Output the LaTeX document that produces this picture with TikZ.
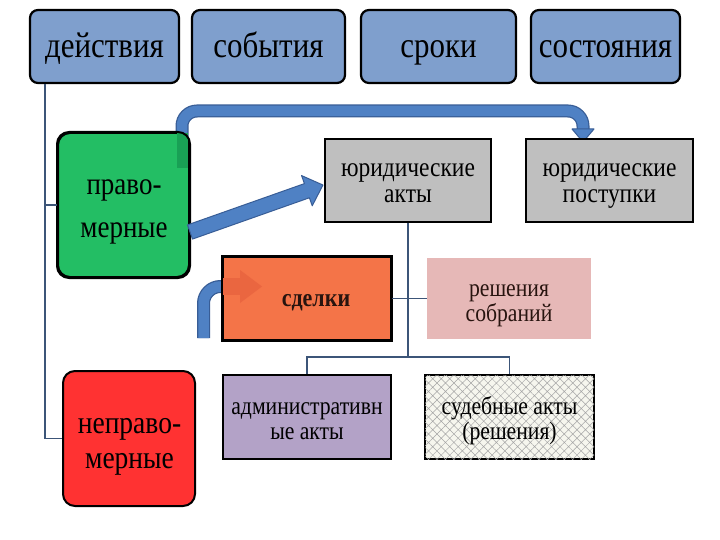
\documentclass[tikz,border=0pt]{standalone}
\usepackage{fontspec}
\setmainfont{Liberation Serif}[FakeStretch=0.86]
\usetikzlibrary{patterns.meta}
\definecolor{topblue}{RGB}{127,159,205}
\definecolor{arrfill}{RGB}{79,129,196}
\definecolor{arredge}{RGB}{56,93,150}
\definecolor{treecol}{RGB}{60,85,120}
\definecolor{grn}{RGB}{35,190,100}
\definecolor{grndark}{RGB}{25,160,85}
\definecolor{rd}{RGB}{255,50,50}
\definecolor{gry}{RGB}{191,191,191}
\definecolor{orng}{RGB}{244,116,72}
\definecolor{orngdark}{RGB}{234,102,64}
\definecolor{pnk}{RGB}{230,184,183}
\definecolor{prpl}{RGB}{179,162,199}
\definecolor{ivry}{RGB}{246,246,238}
\definecolor{txtdark}{RGB}{40,20,15}
\begin{document}
\begin{tikzpicture}[x=1pt,y=-1pt,
  topbox/.style={draw=black, line width=2.2pt, rounded corners=8pt, fill=topblue, inner sep=0pt, minimum height=73pt},
  roundbox/.style={draw=black, line width=2pt, rounded corners=12pt, inner sep=0pt},
  sqbox/.style={draw=black, line width=2pt, inner sep=0pt},
  lbl/.style={anchor=base, inner sep=0pt, text height=14pt, text depth=3pt},
  ftop/.style={font=\fontsize{36}{36}\selectfont},
  fbig/.style={font=\fontsize{31.4}{32}\selectfont},
  fjur/.style={font=\fontsize{27.3}{28}\selectfont},
  fmid/.style={font=\fontsize{25.2}{26}\selectfont},
  tree/.style={draw=treecol, line width=1.5pt},
  arrbody/.style={line width=13pt, draw=arredge, rounded corners=15pt},
  arrinner/.style={line width=10.5pt, draw=arrfill, rounded corners=15pt},
  arrhead/.style={fill=arrfill, draw=arredge, line width=1pt, line join=round}]
\useasboundingbox (0,0) rectangle (720,540);
\fill[white] (0,0) rectangle (720,540);

% top row
\node[topbox, minimum width=149pt] (deis) at (104.5,46.5) {};
\node[topbox, minimum width=153pt] (sob) at (268.5,46.5) {};
\node[topbox, minimum width=155pt] (srok) at (438.5,46.5) {};
\node[topbox, minimum width=149pt] (sost) at (605.5,46.5) {};
\node[lbl, ftop] (deisT) at (104.5,58) {действия};
\node[lbl, ftop] (sobT) at (268.5,58) {события};
\node[lbl, ftop] (srokT) at (438.5,58) {сроки};
\node[lbl, ftop] (sostT) at (605.5,58) {состояния};

% blue arrows
\coordinate (a1s) at (182,168);
\coordinate (a1c) at (182,111);
\coordinate (a1d) at (583,111);
\coordinate (a1e) at (583,131);
\draw[arrbody] (a1s) -- (a1c) -- (a1d) -- (a1e);
\draw[arrinner] (a1s) -- (a1c) -- (a1d) -- (a1e);
\draw[arrhead] (572,129) -- (594,129) -- (583,142) -- cycle;

\coordinate (a2s) at (203.5,338);
\coordinate (a2c) at (203.5,286.5);
\coordinate (a2e) at (242,286.5);
\draw[arrbody, rounded corners=17pt] (a2s) -- (a2c) -- (a2e);
\draw[arrinner, rounded corners=17pt] (a2s) -- (a2c) -- (a2e);
\draw[arrhead] (240,270) -- (262,286.5) -- (240,303) -- cycle;

% left boxes
\node[roundbox, fill=grn, minimum width=131pt, minimum height=144pt] (prav) at (123.5,205) {};
\begin{scope}
\clip (prav.north west) rectangle (prav.south east);
\fill[grndark] (177,133) rectangle (188,168);
\end{scope}
\draw[draw=black, line width=2pt, rounded corners=12pt] (prav.north west) rectangle (prav.south east);
\node[lbl, fbig] (pravT1) at (124,195) {право-};
\node[lbl, fbig] (pravT2) at (124,237) {мерные};

\node[roundbox, fill=rd, minimum width=132pt, minimum height=135pt] (neprav) at (129,438.5) {};
\node[lbl, font=\fontsize{32}{32}\selectfont] (nepravT1) at (129.5,433) {неправо-};
\node[lbl, font=\fontsize{32}{32}\selectfont] (nepravT2) at (129.5,468) {мерные};

% middle boxes
\node[sqbox, fill=gry, minimum width=166pt, minimum height=83pt] (juract) at (408,180.5) {};
\node[lbl, fjur] (juractT1) at (408,177) {юридические};
\node[lbl, fjur] (juractT2) at (408,203) {акты};
\node[sqbox, fill=gry, minimum width=167pt, minimum height=83pt] (jurpost) at (609.5,180.5) {};
\node[lbl, fjur] (jurpostT1) at (609.5,177) {юридические};
\node[lbl, fjur] (jurpostT2) at (609.5,203) {поступки};

\node[sqbox, fill=orng, minimum width=168pt, minimum height=83pt] (sdel) at (307,298.5) {};
\begin{scope}
\clip (sdel.north west) rectangle (sdel.south east);
\fill[orngdark] (215,278) rectangle (241,295);
\fill[orngdark] (240,270) -- (262,286.5) -- (240,303) -- cycle;
\end{scope}
\draw[draw=black, line width=2pt] (sdel.north west) rectangle (sdel.south east);
\node[lbl, text=txtdark, font=\fontsize{25.6}{26}\selectfont\bfseries] (sdelT) at (316,306) {сделки};

\node[draw=none, fill=pnk, inner sep=0pt, minimum width=164pt, minimum height=81pt] (resh) at (509,298.5) {};
\node[lbl, fmid, text=txtdark] (reshT1) at (509,296) {решения};
\node[lbl, fmid, text=txtdark] (reshT2) at (509,321) {собраний};

\node[sqbox, fill=prpl, minimum width=168pt, minimum height=84pt] (adm) at (307,417) {};
\node[lbl, fmid] (admT1) at (307,414) {административн};
\node[lbl, fmid] (admT2) at (307,439) {ые акты};

\node[sqbox, fill=ivry, postaction={pattern={Hatch[angle=45,distance=6pt,line width=0.5pt]}, pattern color=gray!70},
  minimum width=169pt, minimum height=84pt] (sud) at (509.5,417) {};
\node[lbl, fmid] (sudT1) at (509.5,414) {судебные акты};
\node[lbl, fmid] (sudT2) at (509.5,439) {(решения)};

% straight arrow
\coordinate (a3s) at (190,232);
\begin{scope}[shift={(a3s)}, rotate=19.46]
\draw[arrhead] (0,-7.5) -- (124,-7.5) -- (124,-16) -- (141,0) -- (124,16) -- (124,7.5) -- (0,7.5) -- cycle;
\end{scope}

% tree lines
\coordinate (trunk) at (45,0);
\draw[tree] (trunk |- deis.south) -- (trunk |- neprav.west) -- (neprav.west);
\draw[tree] (trunk |- prav.west) -- (prav.west);
\coordinate (br) at (408,357);
\draw[tree] (juract.south) -- (br);
\draw[tree] (sdel.east) -- (resh.west);
\draw[tree] (adm.north) -- (adm.north |- br) -- (sud.north |- br) -- (sud.north);
\end{tikzpicture}
\end{document}
